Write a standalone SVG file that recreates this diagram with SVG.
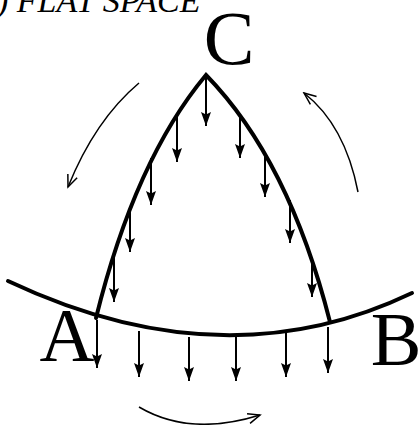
<svg xmlns="http://www.w3.org/2000/svg" width="420" height="425" viewBox="0 0 420 425">
<style>
.lbl{font-family:"Liberation Serif","Times New Roman",serif;font-size:76px;fill:#000;text-anchor:middle}
.ttl{font-family:"Liberation Serif","Times New Roman",serif;font-size:34px;font-style:italic;fill:#000}
.thick{fill:none;stroke:#000;stroke-width:4;stroke-linecap:round}
.down{stroke:#000;stroke-width:2;marker-end:url(#fa)}
.rot{fill:none;stroke:#000;stroke-width:1.5;marker-end:url(#oa)}
</style>
<defs>
<marker id="fa" markerUnits="userSpaceOnUse" markerWidth="15" markerHeight="11" refX="14" refY="5.5" orient="auto" viewBox="0 0 15 11">
<path d="M0,0.5 L14,5.5 L0,10.5 L2.5,5.5 Z" fill="#000"/>
</marker>
<marker id="oa" markerUnits="userSpaceOnUse" markerWidth="16" markerHeight="12" refX="14" refY="6" orient="auto" viewBox="0 0 16 12">
<path d="M2,1 L14,6 L2,11" fill="none" stroke="#000" stroke-width="1.5"/>
</marker>
</defs>
<text class="ttl" x="-3" y="12">) FLAT SPACE</text>
<g id="surface">
<path class="thick" d="M8,281 Q224,383 412,293"/>
</g>
<g id="triangle">
<path class="thick" d="M96,318 Q135,160 206,75 Q289,160 330,322"/>
</g>
<g id="A"><text class="lbl" x="67" y="361">A</text></g>
<g id="B"><text class="lbl" x="396" y="365">B</text></g>
<g id="C"><text class="lbl" x="229" y="64">C</text></g>
<g id="connectors">
<line class="down" x1="206" y1="77" x2="206" y2="126"/>
<line class="down" x1="177" y1="117" x2="177" y2="162"/>
<line class="down" x1="151" y1="158" x2="151" y2="205"/>
<line class="down" x1="130" y1="206" x2="130" y2="252"/>
<line class="down" x1="114" y1="257" x2="114" y2="302"/>
<line class="down" x1="240" y1="116" x2="240" y2="158"/>
<line class="down" x1="265" y1="153" x2="265" y2="197"/>
<line class="down" x1="290" y1="200" x2="290" y2="243"/>
<line class="down" x1="312" y1="257" x2="312" y2="297"/>
<line class="down" x1="97" y1="320" x2="97" y2="368"/>
<line class="down" x1="139" y1="331" x2="139" y2="377"/>
<line class="down" x1="189" y1="337" x2="189" y2="381"/>
<line class="down" x1="236" y1="337" x2="236" y2="381"/>
<line class="down" x1="286" y1="332" x2="286" y2="377"/>
<line class="down" x1="328" y1="327" x2="328" y2="373"/>
<path class="rot" d="M139,83 Q95,120 68,187"/>
<path class="rot" d="M358,192 Q345,125 304,93"/>
<path class="rot" d="M139,407 Q190,437 260,415"/>
</g>
</svg>
